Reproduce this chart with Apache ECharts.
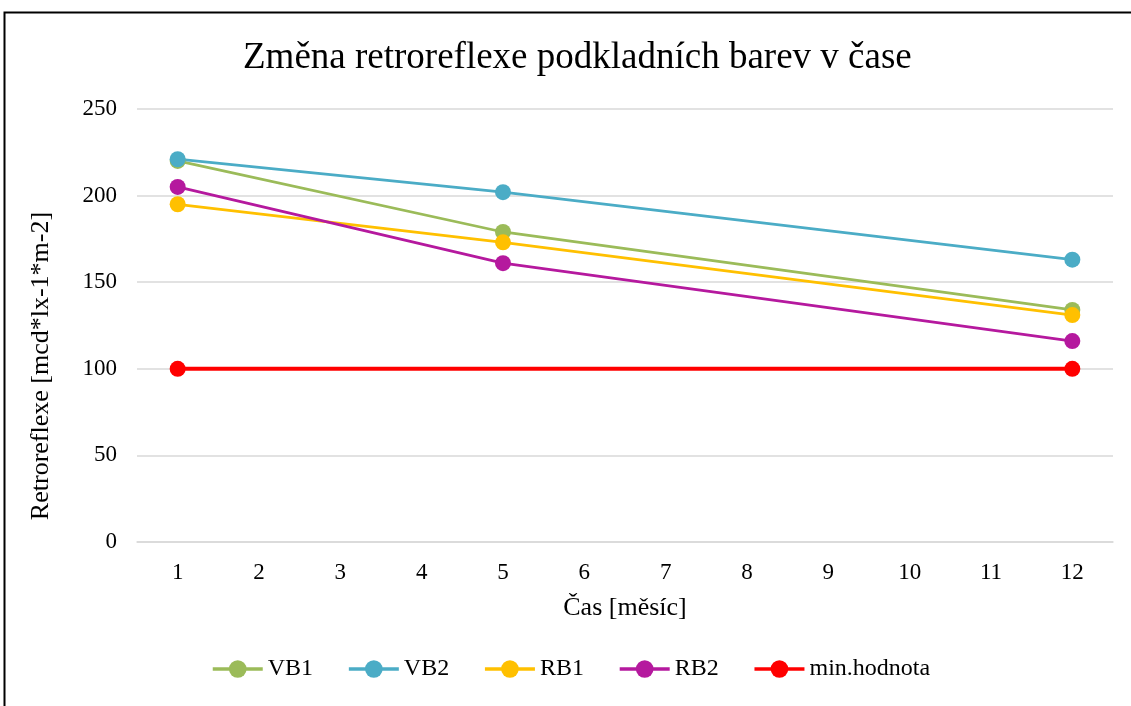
<!DOCTYPE html>
<html><head><meta charset="utf-8">
<script src="https://cdn.jsdelivr.net/npm/echarts@6/dist/echarts.min.js"></script>
<style>html,body{margin:0;padding:0;background:#fff}#c{width:1131px;height:706px}</style>
</head><body><div id="c"></div>
<script>
const categories = ['1','2','3','4','5','6','7','8','9','10','11','12'];
const months = ['1','5','12'];
const VB1 = [220, 179, 134];
const VB2 = [221, 202, 163];
const RB1 = [195, 173, 131];
const RB2 = [205, 161, 116];
const minHodnota = [100, 100];
const minMonths = ['1','12'];
const yTicks = [0, 250, 50];

const font = 'Liberation Serif';
function mk(name, m, vals, color, w) {
  return {
    name: name, type: 'line', data: m.map((c, i) => [c, vals[i]]),
    symbol: 'circle', symbolSize: 16,
    lineStyle: { color: color, width: w },
    itemStyle: { color: color },
    z: name === 'min.hodnota' ? 1 : 2
  };
}
const chart = echarts.init(document.getElementById('c'), null, { renderer: 'canvas' });
chart.setOption({
  animation: false,
  backgroundColor: '#fff',
  graphic: [
    { type: 'rect', shape: { x: 4.5, y: 12.5, width: 1300, height: 900 },
      style: { fill: 'none', stroke: '#000', lineWidth: 2 }, z: -1 },
    { type: 'text', x: 41, y: 366, rotation: Math.PI / 2,
      style: { text: 'Retroreflexe [mcd*lx-1*m-2]', fontFamily: font, fontSize: 26, fill: '#000',
        align: 'center', verticalAlign: 'middle' } }
  ],
  title: { text: 'Změna retroreflexe podkladních barev v čase', left: 238, top: 35,
    textStyle: { fontFamily: font, fontSize: 37, fontWeight: 'normal', color: '#000' } },
  grid: { left: 137, right: 18, top: 109, bottom: 164, containLabel: false },
  legend: { top: 652, left: 206, itemWidth: 50, itemHeight: 22, itemGap: 34,
    lineStyle: { width: 3.5 },
    textStyle: { fontFamily: font, fontSize: 24, color: '#000' },
    data: ['VB1','VB2','RB1','RB2','min.hodnota'] },
  xAxis: { type: 'category', data: categories, boundaryGap: true,
    name: 'Čas [měsíc]', nameLocation: 'middle', nameGap: 53,
    nameTextStyle: { fontFamily: font, fontSize: 26, color: '#000' },
    axisLine: { lineStyle: { color: '#d9d9d9', width: 1.5 } }, axisTick: { show: false },
    axisLabel: { fontFamily: font, fontSize: 23, color: '#000', margin: 19 } },
  yAxis: { type: 'value', min: yTicks[0], max: yTicks[1], interval: yTicks[2],
    axisLine: { show: false }, axisTick: { show: false },
    splitLine: { lineStyle: { color: '#d9d9d9', width: 1.5 } },
    axisLabel: { fontFamily: font, fontSize: 23, color: '#000', margin: 20 } },
  series: [
    mk('VB1', months, VB1, '#9BBB59', 2.75),
    mk('VB2', months, VB2, '#4BACC6', 2.75),
    mk('RB1', months, RB1, '#FFC000', 2.75),
    mk('RB2', months, RB2, '#B5199E', 2.75),
    mk('min.hodnota', minMonths, minHodnota, '#FF0000', 4)
  ]
});
</script></body></html>
